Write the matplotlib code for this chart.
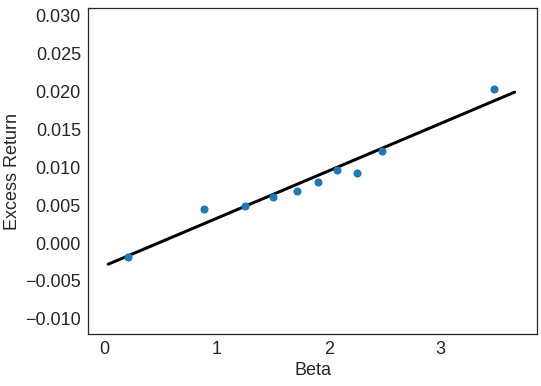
import matplotlib
matplotlib.use("Agg")
import matplotlib.pyplot as plt
import seaborn as sns

# portfolio betas and excess returns
betas = [0.21, 0.89, 1.25, 1.50, 1.72, 1.90, 2.07, 2.25, 2.48, 3.48]
excess_returns = [-0.0018, 0.0045, 0.0049, 0.0061, 0.0068, 0.0081, 0.0096, 0.0093, 0.0122, 0.0203]

# fitted security market line (end points)
line_x = [0.03, 3.66]
line_y = [-0.0028, 0.0199]

sns.set_style("white")
plt.rcParams['font.family'] = ['Liberation Sans', 'DejaVu Sans']

fig, ax = plt.subplots(figsize=(541 / 72, 386 / 72), dpi=72)

ax.scatter(betas, excess_returns, s=50, color='#1f77b4', zorder=3)
ax.plot(line_x, line_y, color='black', linewidth=3)

ax.set_xlim(-0.15, 3.86)
ax.set_ylim(-0.012, 0.031)
ax.set_xticks([0, 1, 2, 3])
ax.set_yticks([-0.010, -0.005, 0.0, 0.005, 0.010, 0.015, 0.020, 0.025, 0.030])
# unicode minus like the default formatter
ax.yaxis.set_major_formatter(matplotlib.ticker.FuncFormatter(lambda v, p: f"{v:.3f}".replace("-", "\u2212")))
ax.tick_params(labelsize=18, colors='.15')

for s in ax.spines.values():
    s.set_color('.15')
    s.set_linewidth(1.25)

ax.set_xlabel("Beta", fontsize=18, color='.15')
ax.set_ylabel("Excess Return", fontsize=18, color='.15')

plt.subplots_adjust(left=88 / 541, right=537 / 541, top=1 - 8 / 386, bottom=1 - 334 / 386)
fig.savefig("out.png", dpi=72)
